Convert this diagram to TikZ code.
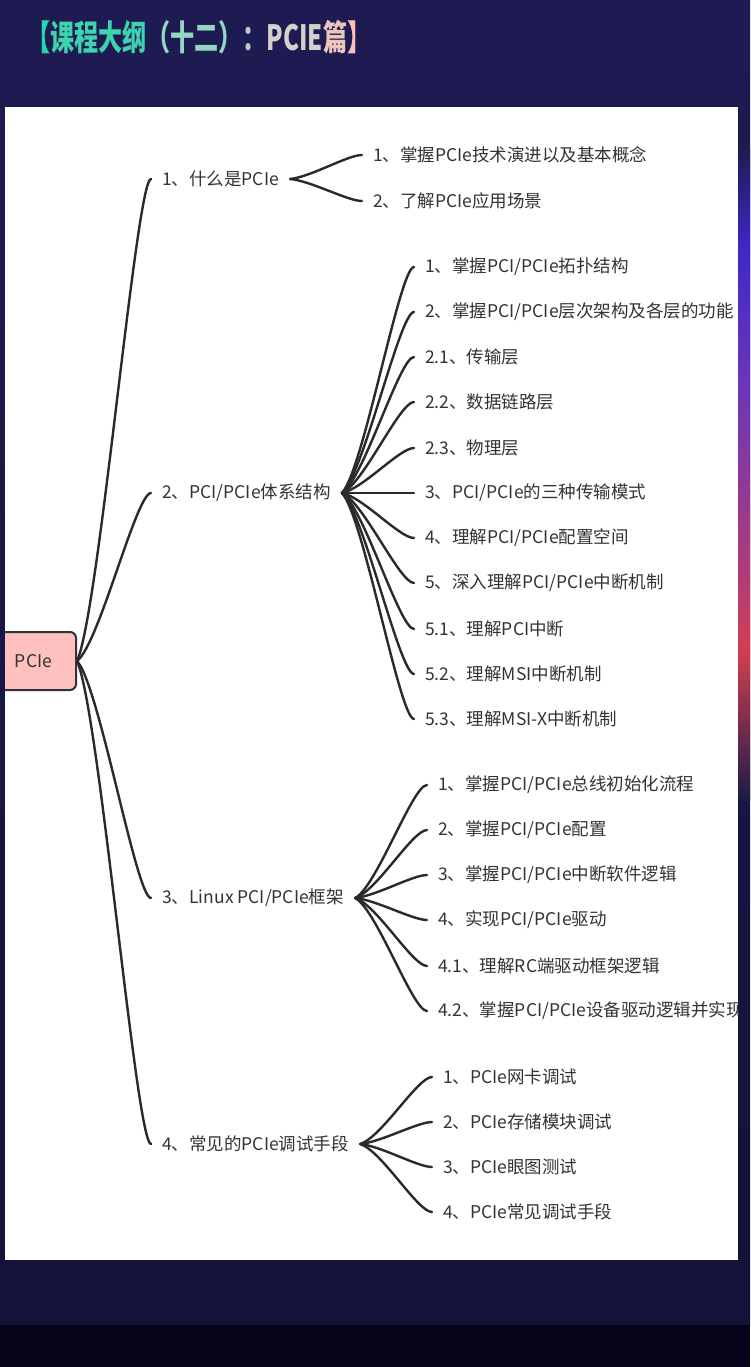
\documentclass[tikz,border=0pt]{standalone}
\usepackage{fontspec}
\setmainfont{Noto Sans CJK SC}
\usetikzlibrary{calc}
\definecolor{bgtop}{HTML}{1E1B53}
\definecolor{bgbot}{HTML}{141238}
\definecolor{bgblack}{HTML}{05041A}
\definecolor{txt}{HTML}{333333}
\definecolor{ln}{HTML}{2A2A2A}
\definecolor{rootfill}{HTML}{FFC0C0}
\definecolor{sA}{HTML}{1E1B55}
\definecolor{sB}{HTML}{4028C8}
\definecolor{sC}{HTML}{6A36B8}
\definecolor{sD}{HTML}{8C3A98}
\definecolor{sE}{HTML}{B23C76}
\definecolor{sF}{HTML}{D24050}
\definecolor{sG}{HTML}{1C1A48}
\definecolor{tA}{HTML}{1FD9B0}
\definecolor{tB}{HTML}{3CD4AE}
\definecolor{tC}{HTML}{90D8C4}
\definecolor{tD}{HTML}{B9CFC6}
\definecolor{tE}{HTML}{D4D0CA}
\definecolor{tF}{HTML}{ECC6BC}
\definecolor{tG}{HTML}{FFC0B6}
\begin{document}
\begin{tikzpicture}[x=1pt,y=-1pt,
  branch/.style={to path={let \p1=(\tikztostart), \p2=(\tikztotarget) in
     .. controls ({\x1+0.3*(\x2-\x1)},{\y1+0.1*(\y2-\y1)}) and ({\x2-0.2*(\x2-\x1)},{\y2}) .. (\tikztotarget)}},
  conn/.style={draw=ln, line width=2.4pt, line cap=round},
  item/.style={anchor=west, inner xsep=11pt, inner ysep=2pt, text=txt, font=\fontsize{17.5}{21}\selectfont},
  rootbox/.style={draw=txt, line width=2pt, fill=rootfill, rounded corners=6pt, minimum width=85pt, minimum height=58pt, text=txt, font=\fontsize{17.5}{21}\selectfont}
]
\useasboundingbox (0,0) rectangle (750,1367);
% background
\shade[top color=bgtop, bottom color=bgbot] (0,0) rectangle (750,1325);
\fill[bgblack] (0,1325) rectangle (750,1367);
% right gradient strip
\shade[top color=sA, bottom color=sB] (738,150) rectangle (750,250);
\shade[top color=sB, bottom color=sC] (738,250) rectangle (750,380);
\shade[top color=sC, bottom color=sD] (738,380) rectangle (750,480);
\shade[top color=sD, bottom color=sE] (738,480) rectangle (750,580);
\shade[top color=sE, bottom color=sF] (738,580) rectangle (750,650);
\shade[top color=sF, bottom color=sG] (738,650) rectangle (750,800);
% title
\node[anchor=west, inner sep=0pt, font=\fontsize{29}{34}\bfseries, xscale=0.83, yscale=1.2] (title) at (26,37)
  {\textcolor{tA}{【}\textcolor{tB}{课程大纲}\textcolor{tC}{（十二）}\textcolor{tD}{：}\textcolor{tE}{ PCIE}\textcolor{tF}{篇}\textcolor{tG}{】}};
% panel
\fill[white] (5,107) rectangle (738,1260);
\begin{scope}
\clip (5,107) rectangle (738,1260);
\node[rootbox] (root) at (33.5,661) {PCIe};
% level 1
\node[item] (a) at (151,179) {1、什么是PCIe};
\node[item] (b) at (151,493) {2、PCI/PCIe体系结构};
\node[item] (c) at (151,898) {3、Linux PCI/PCIe框架};
\node[item] (d) at (151,1144) {4、常见的PCIe调试手段};
% group a
\node[item] (a1) at (362,155) {1、掌握PCIe技术演进以及基本概念};
\node[item] (a2) at (362,201) {2、了解PCIe应用场景};
% group b
\node[item] (b1) at (414,267) {1、掌握PCI/PCIe拓扑结构};
\node[item] (b2) at (414,312) {2、掌握PCI/PCIe层次架构及各层的功能};
\node[item] (b3) at (414,357) {2.1、传输层};
\node[item] (b4) at (414,402) {2.2、数据链路层};
\node[item] (b5) at (414,448) {2.3、物理层};
\node[item] (b6) at (414,493) {3、PCI/PCIe的三种传输模式};
\node[item] (b7) at (414,538) {4、理解PCI/PCIe配置空间};
\node[item] (b8) at (414,583) {5、深入理解PCI/PCIe中断机制};
\node[item] (b9) at (414,629) {5.1、理解PCI中断};
\node[item] (b10) at (414,674) {5.2、理解MSI中断机制};
\node[item] (b11) at (414,719) {5.3、理解MSI-X中断机制};
% group c
\node[item] (c1) at (427,785) {1、掌握PCI/PCIe总线初始化流程};
\node[item] (c2) at (427,830) {2、掌握PCI/PCIe配置};
\node[item] (c3) at (427,875) {3、掌握PCI/PCIe中断软件逻辑};
\node[item] (c4) at (427,920) {4、实现PCI/PCIe驱动};
\node[item] (c5) at (427,966) {4.1、理解RC端驱动框架逻辑};
\node[item] (c6) at (427,1011) {4.2、掌握PCI/PCIe设备驱动逻辑并实现};
% group d
\node[item] (d1) at (432,1077) {1、PCIe网卡调试};
\node[item] (d2) at (432,1122) {2、PCIe存储模块调试};
\node[item] (d3) at (432,1167) {3、PCIe眼图测试};
\node[item] (d4) at (432,1212) {4、PCIe常见调试手段};
% connectors
\foreach \k in {a,b,c,d} \draw[conn] (root.east) to[branch] (\k.west);
\foreach \k in {a1,a2} \draw[conn] (a.east) to[branch] (\k.west);
\foreach \k in {b1,b2,b3,b4,b5,b6,b7,b8,b9,b10,b11} \draw[conn] (b.east) to[branch] (\k.west);
\foreach \k in {c1,c2,c3,c4,c5,c6} \draw[conn] (c.east) to[branch] (\k.west);
\foreach \k in {d1,d2,d3,d4} \draw[conn] (d.east) to[branch] (\k.west);
\end{scope}
\end{tikzpicture}
\end{document}
